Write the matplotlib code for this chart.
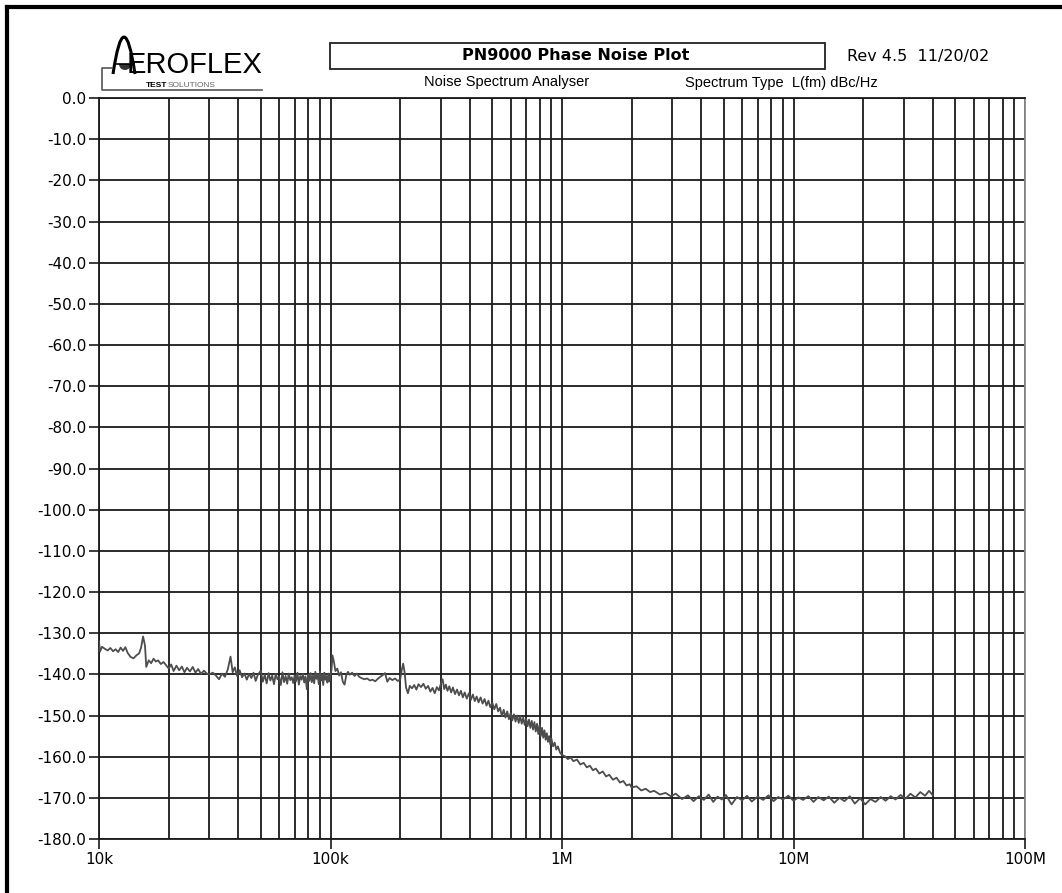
import matplotlib
matplotlib.use("Agg")
import matplotlib.pyplot as plt
from matplotlib.patches import Rectangle, Wedge, PathPatch
from matplotlib.path import Path
from matplotlib.ticker import FixedLocator, LogLocator, NullFormatter

plt.rcParams["font.family"] = ["DejaVu Sans"]
ARIAL = ["Liberation Sans", "DejaVu Sans"]

# offset frequency (kHz) and L(fm)
freq_khz = [
    10.0, 10.1, 10.3, 10.6, 10.9, 11.2, 11.5, 11.8, 12.1, 12.4, 12.7, 13.0, 13.3, 13.7, 14.1, 14.5,
    14.9, 15.2, 15.5, 15.8, 16.0, 16.4, 16.8, 17.2, 17.6, 18.0, 18.5, 19.0, 19.5, 20.0, 20.5, 21.0,
    21.6, 22.2, 22.8, 23.4, 24.0, 24.7, 25.4, 26.1, 26.8, 27.6, 28.4, 29.2, 30.0, 31.0, 32.0, 33.0,
    34.0, 35.0, 36.0, 37.0, 37.8, 38.6, 39.5, 40.5, 41.5, 42.5, 43.5, 44.5, 45.5, 46.5, 47.5, 48.5,
    50.0, 51.0, 52.0, 53.0, 54.0, 55.0, 56.0, 57.0, 58.0, 59.0, 60.0, 61.0, 62.0, 63.0, 64.0, 65.0,
    66.0, 67.0, 68.0, 69.0, 70.0, 71.0, 72.0, 73.0, 74.0, 75.0, 76.0, 77.0, 78.0, 79.0, 80.0, 81.0,
    82.0, 83.0, 84.0, 85.0, 86.0, 87.0, 88.0, 89.0, 90.0, 91.0, 92.0, 93.0, 94.0, 95.0, 96.0, 97.0,
    98.0, 99.0, 100.0, 101.0, 102.0, 103.5, 105.0, 107.0, 109.0, 111.0, 113.0, 115.0, 117.0, 119.0,
    121.0, 124.0, 127.0, 130.0, 133.0, 136.0, 140.0, 144.0, 148.0, 152.0, 156.0, 160.0, 164.0, 168.0,
    172.0, 176.0, 180.0, 185.0, 190.0, 195.0, 200.0, 203.0, 206.0, 209.0, 212.0, 216.0, 220.0, 225.0,
    230.0, 235.0, 240.0, 246.0, 252.0, 258.0, 264.0, 270.0, 276.0, 282.0, 288.0, 294.0, 300.0, 305.0,
    310.0, 315.0, 320.0, 326.0, 332.0, 338.0, 345.0, 352.0, 359.0, 366.0, 373.0, 380.0, 388.0, 396.0,
    404.0, 412.0, 420.0, 428.0, 436.0, 445.0, 454.0, 463.0, 472.0, 481.0, 490.0, 500.0, 510.0, 520.0,
    530.0, 540.0, 550.0, 560.0, 570.0, 580.0, 590.0, 600.0, 610.0, 620.0, 630.0, 640.0, 650.0, 660.0,
    670.0, 680.0, 690.0, 700.0, 710.0, 720.0, 730.0, 740.0, 750.0, 760.0, 770.0, 780.0, 790.0, 800.0,
    810.0, 820.0, 830.0, 840.0, 850.0, 860.0, 870.0, 880.0, 890.0, 900.0, 915.0, 930.0, 945.0, 960.0,
    980.0, 1000.0, 1030.0, 1060.0, 1090.0, 1120.0, 1160.0, 1200.0, 1240.0, 1280.0, 1320.0, 1360.0,
    1400.0, 1450.0, 1500.0, 1550.0, 1600.0, 1660.0, 1720.0, 1780.0, 1840.0, 1900.0, 1960.0, 2000.0,
    2100.0, 2200.0, 2300.0, 2400.0, 2500.0, 2650.0, 2800.0, 2950.0, 3100.0, 3300.0, 3500.0, 3700.0,
    3900.0, 4100.0, 4300.0, 4500.0, 4700.0, 4900.0, 5100.0, 5400.0, 5700.0, 6000.0, 6300.0, 6600.0,
    7000.0, 7400.0, 7800.0, 8200.0, 8600.0, 9000.0, 9500.0, 10000.0, 10500.0, 11000.0, 11600.0,
    12200.0, 12800.0, 13500.0, 14200.0, 15000.0, 15800.0, 16600.0, 17500.0, 18400.0, 19400.0,
    20400.0, 21500.0, 22600.0, 23800.0, 25000.0, 26300.0, 27600.0, 29000.0, 30500.0, 32000.0,
    33600.0, 35300.0, 37000.0, 38500.0, 40000.0,
]
noise_dbc = [
    -132.0, -134.5, -133.3, -133.8, -134.2, -133.6, -134.4, -133.9, -134.6, -133.5, -134.3, -133.4,
    -134.8, -135.8, -136.1, -135.4, -134.9, -133.5, -130.8, -133.0, -138.2, -136.6, -137.3, -136.2,
    -136.9, -136.6, -137.5, -137.0, -137.8, -138.6, -137.6, -139.2, -137.9, -139.0, -138.1, -139.5,
    -138.4, -139.3, -138.2, -139.6, -138.7, -139.9, -139.1, -139.8, -140.0, -139.6, -140.3, -141.2,
    -139.8, -140.6, -138.8, -135.7, -139.5, -138.3, -140.4, -139.0, -140.7, -139.8, -141.3, -139.9,
    -140.9, -139.6, -141.6, -140.2, -139.1, -141.8, -140.1, -142.2, -139.7, -141.5, -140.3, -142.4,
    -139.9, -141.2, -140.6, -142.6, -139.5, -141.9, -140.4, -142.3, -139.8, -141.4, -140.7, -142.1,
    -140.2, -141.7, -139.6, -142.5, -140.4, -141.3, -139.9, -142.0, -140.5, -143.6, -140.1, -141.6,
    -139.7, -141.9, -140.3, -142.2, -139.4, -141.1, -140.0, -142.4, -139.2, -141.5, -140.1, -142.6,
    -139.6, -141.3, -140.4, -142.0, -139.8, -141.7, -140.3, -138.9, -135.4, -137.0, -139.2, -138.6,
    -140.3, -139.5, -141.8, -142.5, -140.2, -139.4, -140.1, -139.6, -140.4, -139.8, -140.6, -140.9,
    -141.2, -141.0, -141.5, -141.3, -141.7, -141.1, -140.6, -140.2, -139.7, -141.8, -140.9, -141.4,
    -141.0, -141.6, -141.3, -139.0, -137.4, -139.5, -143.2, -144.6, -142.8, -143.4, -142.6, -143.7,
    -142.4, -143.1, -142.3, -143.5, -142.8, -144.2, -143.3, -144.6, -143.1, -143.9, -142.2, -141.2,
    -143.6, -142.5, -144.0, -142.9, -144.4, -143.2, -144.8, -143.7, -145.1, -144.0, -145.6, -144.4,
    -145.9, -144.6, -146.2, -144.9, -146.5, -145.4, -146.8, -145.6, -147.1, -146.0, -147.6, -146.4,
    -148.0, -146.9, -148.5, -147.2, -149.0, -148.1, -150.2, -148.6, -150.5, -149.0, -150.9, -149.4,
    -151.2, -149.7, -151.5, -150.0, -151.8, -150.2, -152.0, -150.5, -152.3, -150.8, -152.6, -151.0,
    -153.0, -151.3, -153.4, -151.6, -153.9, -152.0, -154.5, -152.4, -155.0, -153.0, -155.4, -153.6,
    -155.9, -154.3, -156.4, -155.0, -157.0, -155.6, -157.5, -156.6, -158.3, -157.5, -159.0, -159.6,
    -159.9, -160.6, -160.2, -161.1, -160.7, -161.9, -161.5, -162.6, -162.2, -163.3, -162.9, -164.1,
    -163.6, -164.8, -164.4, -165.6, -165.1, -166.3, -165.9, -167.0, -166.7, -167.5, -167.2, -168.2,
    -167.8, -168.6, -168.3, -169.2, -168.8, -169.6, -169.0, -170.3, -169.4, -170.8, -169.6, -170.5,
    -169.2, -171.0, -169.7, -170.4, -169.3, -171.6, -169.8, -170.6, -169.5, -170.9, -169.7, -170.5,
    -169.4, -170.8, -169.8, -170.4, -169.5, -170.7, -169.9, -170.5, -169.6, -171.0, -169.8, -170.6,
    -169.7, -171.2, -170.0, -170.8, -169.6, -171.4, -170.1, -171.6, -170.3, -171.0, -169.8, -170.7,
    -169.6, -170.4, -169.3, -170.2, -169.0, -169.9, -168.6, -169.5, -168.3, -169.4,
]

y_ticks = [0, -10, -20, -30, -40, -50, -60, -70, -80, -90, -100, -110, -120, -130, -140, -150,
           -160, -170, -180]
x_ticks = [1e4, 1e5, 1e6, 1e7, 1e8]
x_labels = ["10k", "100k", "1M", "10M", "100M"]

W, H = 1062, 893
fig = plt.figure(figsize=(W / 100, H / 100), dpi=100)
ax = fig.add_axes([99 / W, 1 - 839 / H, 926 / W, 741 / H])

freq_hz = [f * 1e3 for f in freq_khz]
ax.plot(freq_hz, noise_dbc, color="#4d4d4d", lw=1.3, zorder=3)

ax.set_xscale("log")
ax.set_xlim(1e4, 1e8)
ax.set_ylim(-180, 0)
ax.xaxis.set_major_locator(FixedLocator(x_ticks))
ax.xaxis.set_minor_locator(LogLocator(base=10, subs=[2, 3, 4, 5, 6, 7, 8, 9]))
ax.xaxis.set_minor_formatter(NullFormatter())
ax.set_xticklabels(x_labels)
ax.yaxis.set_major_locator(FixedLocator(y_ticks))
ax.set_yticklabels([f"{v:.1f}" for v in y_ticks])

gc = "#1a1a1a"
ax.grid(which="both", axis="x", color=gc, lw=1.3, zorder=1)
ax.grid(which="major", axis="y", color=gc, lw=1.3, zorder=1)
ax.set_axisbelow(True)
ax.tick_params(which="major", direction="out", length=7, width=1.2, color=gc,
               labelsize=11, pad=2)
ax.tick_params(which="minor", length=0)
for side in ["left", "top", "bottom"]:
    ax.spines[side].set_color(gc)
    ax.spines[side].set_linewidth(1.3)
ax.spines["right"].set_color("#8a8a8a")
ax.spines["right"].set_linewidth(1.3)

# header drawn in pixel coordinates
ov = fig.add_axes([0, 0, 1, 1])
ov.set_xlim(0, W)
ov.set_ylim(H, 0)
ov.axis("off")

ov.plot([7, 7], [H, 7], color="black", lw=3, solid_capstyle="projecting")
ov.plot([7, W], [7, 7], color="black", lw=3, solid_capstyle="projecting")

ov.add_patch(Rectangle((330, 43), 495, 26, fill=False, lw=1.3, ec="#222222"))
ov.text(576, 56, "PN9000 Phase Noise Plot", ha="center", va="center",
        fontsize=11.5, fontweight="bold")
ov.text(847, 56, "Rev 4.5  11/20/02", ha="left", va="center", fontsize=11.5)
ov.text(507, 82, "Noise Spectrum Analyser", ha="center", va="center", fontsize=10.5,
        family=ARIAL)
ov.text(685, 83, "Spectrum Type  L(fm) dBc/Hz", ha="left", va="center", fontsize=10.5,
        family=ARIAL)

# Aeroflex logo
arch = Path([(113, 74), (124, 0), (135, 74)], [Path.MOVETO, Path.CURVE3, Path.CURVE3])
ov.add_patch(PathPatch(arch, fill=False, lw=2.2, ec="black"))
ov.add_patch(Wedge((125, 64), 6, 0, 180, fc="#333333", ec="none"))
ov.plot([116, 134], [64, 64], color="black", lw=1.2)
ov.text(127, 73, "EROFLEX", ha="left", va="baseline", fontsize=21, family=ARIAL)
ov.text(146, 87, "TEST", ha="left", va="baseline", fontsize=6, fontweight="bold",
        family=ARIAL)
ov.text(168, 87, "SOLUTIONS", ha="left", va="baseline", fontsize=6, color="#666666",
        family=ARIAL)
ov.plot([112, 102, 102, 262], [68, 68, 90, 90], color="#555555", lw=1.2)

fig.savefig("out.png", dpi=100)
